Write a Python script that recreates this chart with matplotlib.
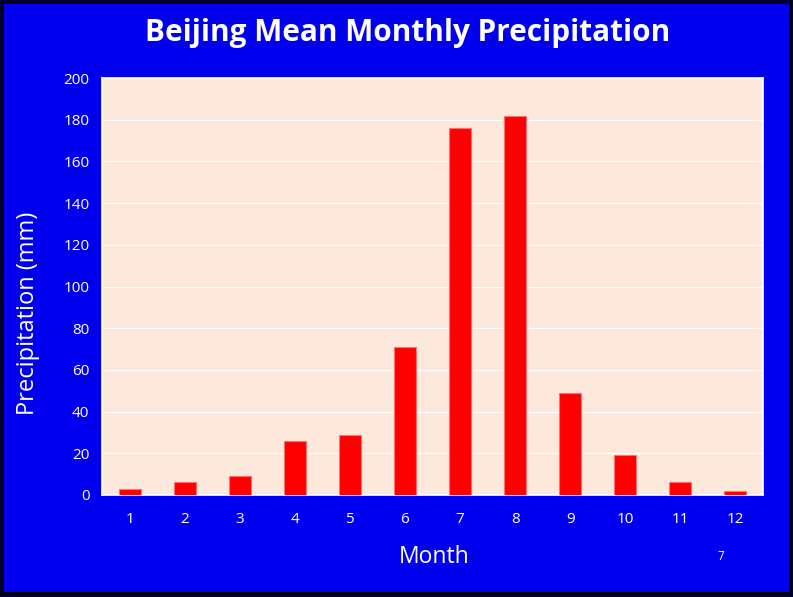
import matplotlib.pyplot as plt
from matplotlib.patches import Rectangle

# Beijing monthly mean precipitation (mm)
months = [1, 2, 3, 4, 5, 6, 7, 8, 9, 10, 11, 12]
precip = [3, 6, 9, 26, 29, 71, 176, 182, 49, 19, 6, 2]
month_labels = [str(m) for m in months]

blue = '#0000EE'
peach = '#FDE9DC'

plt.rcParams['font.family'] = ['Open Sans', 'DejaVu Sans']

fig = plt.figure(figsize=(7.93, 5.97), dpi=100, facecolor='#000040')
# blue slide background with black frame
fig.patches.append(Rectangle((1.5/793, 4.5/597), 788.5/793, 590.5/597, transform=fig.transFigure,
                             facecolor=blue, edgecolor='black', linewidth=2, zorder=-10))

ax = fig.add_axes([102/793, 102/597, 661/793, 417/597])
ax.set_facecolor(peach)
ax.bar(months, precip, width=0.4, color='#FF0000', edgecolor='#FF7070', linewidth=0.8, zorder=3)

ax.set_xlim(0.5, 12.5)
ax.set_ylim(0, 200)
ax.set_yticks(range(0, 201, 20))
ax.set_xticks(months)
ax.set_xticklabels(month_labels)
ax.grid(axis='y', color='white', linewidth=0.8, zorder=0)
ax.tick_params(colors='white', labelsize=11, length=0, pad=9)
ax.tick_params(axis='x', pad=12)
for s in ax.spines.values():
    s.set_color('white')
    s.set_linewidth(1.2)

fig.text(408/793, 1 - 33/597, 'Beijing Mean Monthly Precipitation', color='white',
         fontsize=21.4, fontweight='bold', ha='center', va='center')
fig.text(28/793, 1 - 313/597, 'Precipitation (mm)', color='white', fontsize=17,
         rotation=90, ha='center', va='center')
fig.text(434/793, 1 - 557/597, 'Month', color='white', fontsize=16.5, ha='center', va='center')
fig.text(721/793, 1 - 556/597, '7', color='white', fontsize=8.5, ha='center', va='center')

fig.savefig('out.png', dpi=100, facecolor=fig.get_facecolor())
